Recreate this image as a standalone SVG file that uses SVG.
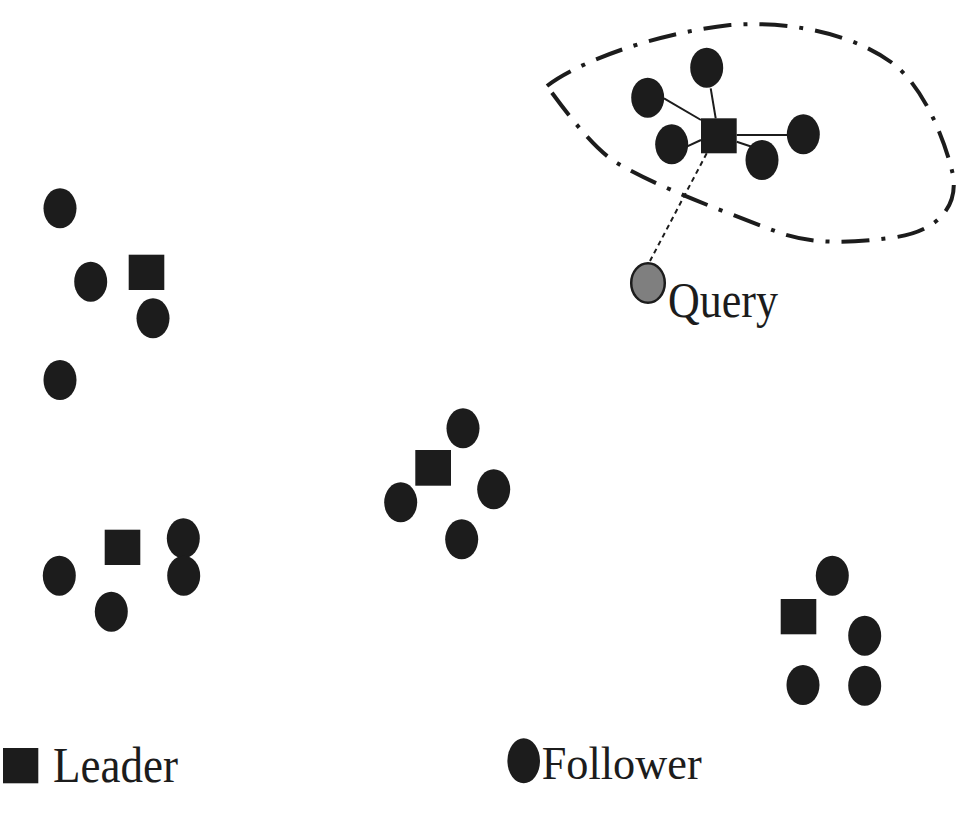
<svg xmlns="http://www.w3.org/2000/svg" width="972" height="818" viewBox="0 0 972 818">
<style>
.f{fill:#1c1c1c}
.l{fill:#1c1c1c}
.t{font-family:"Liberation Serif","Times New Roman",serif;fill:#1c1c1c}
.c{stroke:#1c1c1c;stroke-width:2;fill:none}
</style>
<rect width="972" height="818" fill="#fff"/>
<path id="region" d="M547,86 C575,64 650,34 730,25 C800,20 860,38 895,65 C925,90 945,140 953,175 C958,205 940,232 890,238 C850,243 810,245 775,231 C720,210 660,188 617,163 C595,150 568,115 547,86 Z" fill="none" stroke="#1c1c1c" stroke-width="4" stroke-dasharray="28 12 4 12"/>
<g id="connectors">
<line class="c" x1="715.7" y1="118.3" x2="710.7" y2="88.3"/>
<line class="c" x1="701" y1="120" x2="664" y2="98.3"/>
<line class="c" x1="701" y1="140" x2="686.7" y2="146.7"/>
<line class="c" x1="736.7" y1="135" x2="787.7" y2="135"/>
<line class="c" x1="736.7" y1="141.7" x2="751.7" y2="146.7"/>
<line class="c" x1="706.7" y1="153.3" x2="650" y2="261" stroke-dasharray="5 4"/>
</g>
<g id="cluster-top">
<rect class="l" x="701" y="118.3" width="35.7" height="35"/>
<ellipse class="f" cx="706.7" cy="67.7" rx="16.5" ry="20"/>
<ellipse class="f" cx="647.7" cy="97.7" rx="16.5" ry="20"/>
<ellipse class="f" cx="671.7" cy="144.3" rx="16.5" ry="20"/>
<ellipse class="f" cx="803.3" cy="134.3" rx="16.5" ry="20"/>
<ellipse class="f" cx="762" cy="160" rx="16.5" ry="20"/>
</g>
<g id="query">
<ellipse cx="648" cy="283" rx="16.8" ry="19.8" fill="#7f7f7f" stroke="#1c1c1c" stroke-width="2.5"/>
<text class="t" x="668" y="316.7" font-size="50" textLength="110" lengthAdjust="spacingAndGlyphs">Query</text>
</g>
<g id="cluster-left-top">
<rect class="l" x="128.7" y="254.7" width="35.6" height="35.3"/>
<ellipse class="f" cx="60" cy="208.3" rx="16.5" ry="20"/>
<ellipse class="f" cx="90.7" cy="281.7" rx="16.5" ry="20"/>
<ellipse class="f" cx="153" cy="318.3" rx="16.5" ry="20"/>
<ellipse class="f" cx="60" cy="380" rx="16.5" ry="20"/>
</g>
<g id="cluster-left-bottom">
<rect class="l" x="104.7" y="529.7" width="35.6" height="35.3"/>
<ellipse class="f" cx="59.3" cy="575.7" rx="16.5" ry="20"/>
<ellipse class="f" cx="183.3" cy="538.3" rx="16.5" ry="20"/>
<ellipse class="f" cx="183.7" cy="575.7" rx="16.5" ry="20"/>
<ellipse class="f" cx="111.3" cy="611.7" rx="16.5" ry="20"/>
</g>
<g id="cluster-middle">
<rect class="l" x="415.3" y="450" width="35.7" height="35.7"/>
<ellipse class="f" cx="463" cy="428.3" rx="16.5" ry="20"/>
<ellipse class="f" cx="400.7" cy="502.3" rx="16.5" ry="20"/>
<ellipse class="f" cx="493.7" cy="489.3" rx="16.5" ry="20"/>
<ellipse class="f" cx="461.7" cy="539.3" rx="16.5" ry="20"/>
</g>
<g id="cluster-right-bottom">
<rect class="l" x="780.7" y="599" width="35.6" height="35.3"/>
<ellipse class="f" cx="832.3" cy="575.7" rx="16.5" ry="20"/>
<ellipse class="f" cx="864.7" cy="635.7" rx="16.5" ry="20"/>
<ellipse class="f" cx="803" cy="685" rx="16.5" ry="20"/>
<ellipse class="f" cx="864.7" cy="685.7" rx="16.5" ry="20"/>
</g>
<g id="legend-leader">
<rect class="l" x="3" y="748" width="35.3" height="35.3"/>
<text class="t" x="53" y="781.7" font-size="50" textLength="125" lengthAdjust="spacingAndGlyphs">Leader</text>
</g>
<g id="legend-follower">
<ellipse class="f" cx="523.7" cy="760.8" rx="16.3" ry="22.5"/>
<text class="t" x="541.7" y="779" font-size="47" textLength="160" lengthAdjust="spacingAndGlyphs">Follower</text>
</g>
</svg>
